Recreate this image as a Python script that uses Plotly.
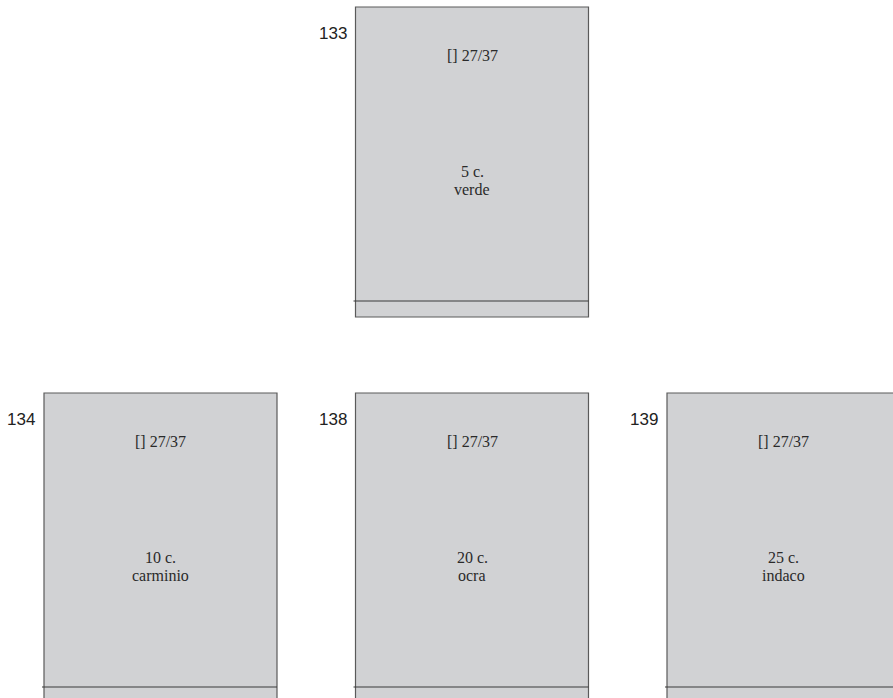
import plotly.graph_objects as go

# ---- data ----
catalogue_numbers = ["133", "134", "138", "139"]
face_values = ["5 c.", "10 c.", "20 c.", "25 c."]
colour_names = ["verde", "carminio", "ocra", "indaco"]
perforations = ["[] 27/37", "[] 27/37", "[] 27/37", "[] 27/37"]
grid_rows = [0, 1, 1, 1]
grid_cols = [1, 0, 1, 2]

# ---- styling / layout constants ----
W, H = 893, 698
BOX_W, BOX_H = 233, 310
X0, Y0 = 44, 7
DX, DY = 311.5, 386
FILL = "#d1d2d4"
EDGE = "#5a5a5a"
RULE = "#3a3a3a"
SERIF = "Liberation Serif, Times New Roman, serif"
SANS = "Liberation Sans, Arial, sans-serif"

fig = go.Figure()
shapes = []
annotations = []

for num, val, col, perf, r, c in zip(catalogue_numbers, face_values, colour_names,
                                     perforations, grid_rows, grid_cols):
    x0 = X0 + c * DX
    y0 = Y0 + r * DY
    x1 = x0 + BOX_W
    y1 = y0 + BOX_H
    cx = (x0 + x1) / 2
    shapes.append(dict(type="rect", xref="x", yref="y", x0=x0, x1=x1, y0=y0, y1=y1,
                       fillcolor=FILL, line=dict(color=EDGE, width=1.2), layer="below"))
    shapes.append(dict(type="line", xref="x", yref="y", x0=x0 - 2, x1=x1, y0=y0 + 294, y1=y0 + 294,
                       line=dict(color=RULE, width=1.2)))
    annotations.append(dict(x=x0 - 7, y=y0 + 26, text=num, showarrow=False, xanchor="right",
                            yanchor="middle", font=dict(family=SANS, size=17, color="#222")))
    annotations.append(dict(x=cx, y=y0 + 48, text=perf, showarrow=False, xanchor="center",
                            yanchor="middle", font=dict(family=SERIF, size=16, color="#2a2a2a")))
    annotations.append(dict(x=cx, y=y0 + 164, text=val, showarrow=False, xanchor="center",
                            yanchor="middle", font=dict(family=SERIF, size=16, color="#2a2a2a")))
    annotations.append(dict(x=cx, y=y0 + 182, text=col, showarrow=False, xanchor="center",
                            yanchor="middle", font=dict(family=SERIF, size=16, color="#2a2a2a")))

fig.update_layout(
    width=W, height=H,
    margin=dict(l=0, r=0, t=0, b=0),
    paper_bgcolor="white", plot_bgcolor="white",
    xaxis=dict(range=[0, W], visible=False, fixedrange=True),
    yaxis=dict(range=[H, 0], visible=False, fixedrange=True),
    shapes=shapes, annotations=annotations, showlegend=False,
)

fig.write_html(
    "out.html",
    config={"displayModeBar": False},
    post_script="document.body.style.margin='0';document.body.style.overflow='hidden';",
)
